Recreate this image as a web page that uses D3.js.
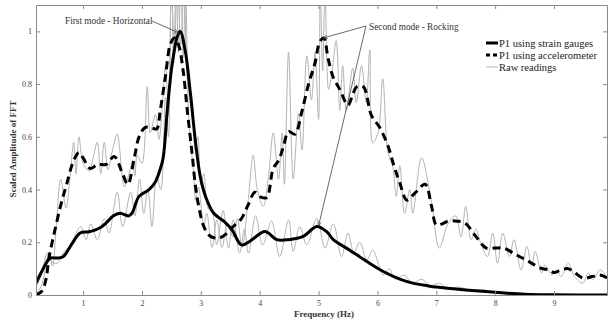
<!DOCTYPE html>
<html>
<head>
<style>
    body { margin: 0; background: #fff; }
    svg text { font-family: "Liberation Serif", "Times New Roman", serif; }
    .axis path, .axis line { stroke: #8a8a8a; }
    .axis text { fill: #444; font-size: 8px; }
</style>
</head>
<body>
<svg width="608" height="321" id="chart"></svg>
<script src="https://cdn.jsdelivr.net/npm/d3@7"></script>
<script>
    // P1 using strain gauges
    let strainFreq = [0.2, 0.3, 0.44, 0.55, 0.66, 0.8, 0.95, 1.1, 1.29, 1.4, 1.51, 1.63, 1.77, 1.83, 1.95, 2.12, 2.23, 2.3, 2.36, 2.43, 2.51, 2.6, 2.65, 2.74, 2.82, 2.91, 2.99, 3.08, 3.22, 3.39, 3.53, 3.69, 3.84, 4.09, 4.29, 4.49, 4.74, 4.97, 5.14, 5.25, 5.53, 5.82, 6.1, 6.38, 6.6, 6.85, 7.0, 7.5, 8.0, 8.5, 9.0, 9.9];
    let strainAmp = [0.045, 0.09, 0.14, 0.14, 0.145, 0.19, 0.235, 0.24, 0.255, 0.275, 0.3, 0.31, 0.3, 0.31, 0.374, 0.4, 0.43, 0.47, 0.52, 0.7, 0.87, 0.98, 1.0, 0.92, 0.77, 0.58, 0.45, 0.374, 0.31, 0.28, 0.247, 0.19, 0.205, 0.241, 0.21, 0.21, 0.222, 0.26, 0.24, 0.21, 0.17, 0.127, 0.089, 0.06, 0.045, 0.035, 0.03, 0.019, 0.01, 0.003, 0.001, 0];

    // P1 using accelerometer
    let accFreq = [0.2, 0.3, 0.37, 0.42, 0.52, 0.62, 0.72, 0.84, 0.93, 1.0, 1.12, 1.25, 1.39, 1.53, 1.67, 1.76, 1.87, 1.95, 2.05, 2.15, 2.25, 2.31, 2.4, 2.48, 2.55, 2.62, 2.7, 2.77, 2.85, 2.91, 2.97, 3.05, 3.15, 3.3, 3.42, 3.55, 3.69, 3.8, 3.92, 4.03, 4.12, 4.23, 4.32, 4.4, 4.49, 4.6, 4.71, 4.83, 4.94, 5.02, 5.09, 5.16, 5.25, 5.36, 5.5, 5.58, 5.65, 5.76, 5.9, 6.04, 6.18, 6.28, 6.38, 6.5, 6.64, 6.81, 6.92, 7.0, 7.1, 7.2, 7.35, 7.49, 7.68, 7.85, 8.0, 8.14, 8.3, 8.41, 8.55, 8.67, 8.8, 8.92, 9.0, 9.12, 9.24, 9.35, 9.5, 9.65, 9.78, 9.9];
    let accAmp = [0.0, 0.015, 0.06, 0.14, 0.245, 0.34, 0.42, 0.51, 0.54, 0.52, 0.48, 0.495, 0.495, 0.525, 0.46, 0.42, 0.52, 0.6, 0.635, 0.635, 0.63, 0.7, 0.83, 0.95, 0.975, 0.95, 0.85, 0.7, 0.54, 0.41, 0.33, 0.26, 0.225, 0.215, 0.23, 0.26, 0.29, 0.34, 0.39, 0.37, 0.37, 0.48, 0.51, 0.56, 0.62, 0.61, 0.69, 0.8, 0.88, 0.96, 0.975, 0.9, 0.825, 0.78, 0.72, 0.76, 0.79, 0.79, 0.68, 0.635, 0.565, 0.49, 0.425, 0.36, 0.387, 0.42, 0.336, 0.266, 0.27, 0.28, 0.28, 0.273, 0.22, 0.178, 0.178, 0.178, 0.16, 0.146, 0.13, 0.114, 0.1, 0.095, 0.085, 0.095, 0.1, 0.085, 0.064, 0.07, 0.076, 0.065];

    // Raw readings, accelerometer
    let rawAccFreq = [0.2, 0.3, 0.42, 0.48, 0.55, 0.62, 0.71, 0.78, 0.84, 0.88, 0.93, 1.0, 1.1, 1.17, 1.24, 1.3, 1.36, 1.42, 1.5, 1.58, 1.7, 1.77, 1.84, 1.88, 1.92, 2.0, 2.09, 2.14, 2.23, 2.29, 2.34, 2.4, 2.45, 2.5, 2.54, 2.58, 2.62, 2.66, 2.7, 2.74, 2.8, 2.88, 2.91, 2.96, 3.05, 3.1, 3.19, 3.27, 3.36, 3.45, 3.55, 3.62, 3.7, 3.8, 3.89, 3.96, 4.06, 4.15, 4.23, 4.32, 4.38, 4.42, 4.49, 4.57, 4.66, 4.72, 4.8, 4.88, 4.94, 5.0, 5.03, 5.07, 5.11, 5.17, 5.23, 5.3, 5.36, 5.41, 5.47, 5.58, 5.64, 5.73, 5.81, 5.87, 5.92, 6.01, 6.09, 6.18, 6.26, 6.32, 6.38, 6.46, 6.55, 6.6, 6.75, 6.92, 7.05, 7.2, 7.33, 7.42, 7.5, 7.59, 7.67, 7.75, 7.87, 7.96, 8.04, 8.13, 8.24, 8.32, 8.44, 8.54, 8.62, 8.68, 8.79, 8.84, 8.96, 9.03, 9.12, 9.24, 9.35, 9.49, 9.58, 9.66, 9.78, 9.9];
    let rawAccAmp = [0.0, 0.04, 0.16, 0.11, 0.28, 0.44, 0.33, 0.45, 0.58, 0.46, 0.6, 0.5, 0.47, 0.52, 0.58, 0.46, 0.58, 0.475, 0.55, 0.61, 0.41, 0.45, 0.51, 0.45, 0.53, 0.5, 0.79, 0.615, 0.685, 0.59, 0.7, 0.87, 0.68, 1.2, 0.88, 1.2, 0.92, 1.2, 0.9, 1.15, 0.65, 0.46, 0.36, 0.41, 0.26, 0.31, 0.18, 0.285, 0.18, 0.27, 0.22, 0.29, 0.18, 0.35, 0.53, 0.4, 0.336, 0.45, 0.615, 0.44, 0.615, 0.42, 0.92, 0.44, 0.69, 0.55, 0.907, 0.74, 0.92, 0.666, 1.15, 0.85, 1.15, 0.78, 0.85, 0.965, 0.7, 0.87, 0.7, 0.86, 0.73, 0.87, 0.73, 0.93, 0.577, 0.615, 0.82, 0.54, 0.49, 0.374, 0.49, 0.31, 0.4, 0.31, 0.52, 0.35, 0.178, 0.27, 0.3, 0.22, 0.336, 0.21, 0.25, 0.2, 0.146, 0.235, 0.12, 0.235, 0.146, 0.21, 0.095, 0.184, 0.108, 0.165, 0.083, 0.114, 0.076, 0.095, 0.07, 0.12, 0.07, 0.045, 0.083, 0.057, 0.095, 0.07];

    // Raw readings, strain gauges
    let rawStrainFreq = [0.2, 0.3, 0.39, 0.45, 0.56, 0.66, 0.75, 0.85, 0.96, 1.05, 1.13, 1.24, 1.36, 1.44, 1.58, 1.67, 1.81, 1.88, 1.96, 2.03, 2.1, 2.17, 2.25, 2.32, 2.4, 2.45, 2.5, 2.55, 2.6, 2.66, 2.72, 2.78, 2.85, 2.9, 2.95, 3.0, 3.05, 3.12, 3.2, 3.27, 3.38, 3.47, 3.55, 3.66, 3.74, 3.81, 3.93, 4.05, 4.2, 4.34, 4.49, 4.57, 4.68, 4.8, 4.97, 5.11, 5.25, 5.39, 5.5, 5.6, 5.7, 5.82, 5.92, 6.1, 6.2, 6.3, 6.45, 6.6, 6.75, 6.9, 7.05, 7.2, 7.4, 7.6, 7.8, 8.0, 8.3, 8.6, 9.0, 9.9];
    let rawStrainAmp = [0.03, 0.08, 0.16, 0.13, 0.12, 0.16, 0.18, 0.22, 0.26, 0.21, 0.27, 0.21, 0.29, 0.235, 0.39, 0.26, 0.39, 0.3, 0.44, 0.31, 0.4, 0.26, 0.45, 0.4, 0.75, 0.6, 1.2, 0.9, 1.2, 0.95, 1.2, 0.8, 0.75, 0.55, 0.6, 0.42, 0.46, 0.33, 0.31, 0.19, 0.32, 0.178, 0.285, 0.16, 0.25, 0.159, 0.3, 0.19, 0.28, 0.146, 0.285, 0.165, 0.26, 0.19, 0.29, 0.178, 0.27, 0.146, 0.235, 0.16, 0.2, 0.133, 0.17, 0.076, 0.1, 0.06, 0.075, 0.045, 0.06, 0.035, 0.045, 0.025, 0.03, 0.015, 0.02, 0.008, 0.006, 0.002, 0.001, 0];

    let xTicks = [1, 2, 3, 4, 5, 6, 7, 8, 9];
    let yTicks = [0, 0.2, 0.4, 0.6, 0.8, 1];
    let legendLabels = ["P1 using strain gauges", "P1 using accelerometer", "Raw readings"];

    let svg = d3.select("#chart");
    let plotLeft = 36, plotRight = 607, plotTop = 5, plotBottom = 295;

    let x = d3.scaleLinear().domain([0.2, 9.9]).range([plotLeft, plotRight]);
    let y = d3.scaleLinear().domain([0, 1.1]).range([plotBottom, plotTop]);

    let defs = svg.append("defs");
    defs.append("clipPath").attr("id", "plotclip")
        .append("rect")
        .attr("x", plotLeft).attr("y", plotTop)
        .attr("width", plotRight - plotLeft).attr("height", plotBottom - plotTop);

    defs.append("marker")
        .attr("id", "arrowhead")
        .attr("viewBox", "0 0 10 10")
        .attr("refX", 9).attr("refY", 5)
        .attr("markerWidth", 6).attr("markerHeight", 6)
        .attr("orient", "auto")
        .append("path")
        .attr("d", "M0,1 L10,5 L0,9")
        .attr("fill", "none")
        .attr("stroke", "#444")
        .attr("stroke-width", 1.2);

    function pairs(fs, vs) {
        return fs.map(function (f, i) { return [f, vs[i]]; });
    }

    let line = d3.line()
        .x(function (d) { return x(d[0]); })
        .y(function (d) { return y(d[1]); })
        .curve(d3.curveCatmullRom.alpha(0.5));

    let plot = svg.append("g").attr("clip-path", "url(#plotclip)");

    plot.append("path")
        .datum(pairs(rawAccFreq, rawAccAmp))
        .attr("d", line)
        .attr("fill", "none").attr("stroke", "#b4b4b4").attr("stroke-width", 1);

    plot.append("path")
        .datum(pairs(rawStrainFreq, rawStrainAmp))
        .attr("d", line)
        .attr("fill", "none").attr("stroke", "#b4b4b4").attr("stroke-width", 1);

    plot.append("path")
        .datum(pairs(accFreq, accAmp))
        .attr("d", line)
        .attr("fill", "none").attr("stroke", "#000").attr("stroke-width", 3)
        .attr("stroke-dasharray", "8,5");

    plot.append("path")
        .datum(pairs(strainFreq, strainAmp))
        .attr("d", line)
        .attr("fill", "none").attr("stroke", "#000").attr("stroke-width", 3);

    // axes, ticks pointing inward like the original
    svg.append("g").attr("class", "axis")
        .attr("transform", "translate(0," + plotBottom + ")")
        .call(d3.axisBottom(x).tickValues(xTicks).tickSizeInner(-4).tickSizeOuter(0).tickPadding(5));
    svg.append("g").attr("class", "axis")
        .attr("transform", "translate(0," + plotTop + ")")
        .call(d3.axisTop(x).tickValues(xTicks).tickSizeInner(-4).tickSizeOuter(0).tickFormat(""));
    svg.append("g").attr("class", "axis")
        .attr("transform", "translate(" + plotLeft + ",0)")
        .call(d3.axisLeft(y).tickValues(yTicks).tickSizeInner(-4).tickSizeOuter(0).tickPadding(4)
            .tickFormat(d3.format("~g")));
    svg.append("g").attr("class", "axis")
        .attr("transform", "translate(" + plotRight + ",0)")
        .call(d3.axisRight(y).tickValues(yTicks).tickSizeInner(-4).tickSizeOuter(0).tickFormat(""));

    svg.append("text")
        .attr("x", 324).attr("y", 317)
        .attr("text-anchor", "middle")
        .attr("font-size", "9px").attr("font-weight", "bold").attr("fill", "#333")
        .text("Frequency (Hz)");

    svg.append("text")
        .attr("transform", "translate(16,149) rotate(-90)")
        .attr("text-anchor", "middle")
        .attr("font-size", "9px").attr("font-weight", "bold").attr("fill", "#333")
        .text("Scaled Amplitude of FFT");

    // annotations
    svg.append("text")
        .attr("x", 65).attr("y", 24)
        .attr("font-size", "9.3px").attr("fill", "#333")
        .text("First mode - Horizontal");
    svg.append("line")
        .attr("x1", 152).attr("y1", 21).attr("x2", x(2.62)).attr("y2", y(0.995))
        .attr("stroke", "#444").attr("stroke-width", 0.8).attr("marker-end", "url(#arrowhead)");

    svg.append("text")
        .attr("x", 369).attr("y", 30)
        .attr("font-size", "9.3px").attr("fill", "#333")
        .text("Second mode - Rocking");
    svg.append("line")
        .attr("x1", 366).attr("y1", 26).attr("x2", x(5.08)).attr("y2", y(0.975))
        .attr("stroke", "#444").attr("stroke-width", 0.8).attr("marker-end", "url(#arrowhead)");
    svg.append("line")
        .attr("x1", 366).attr("y1", 26).attr("x2", x(5.0)).attr("y2", y(0.262))
        .attr("stroke", "#444").attr("stroke-width", 0.8).attr("marker-end", "url(#arrowhead)");

    // legend
    let legendStyles = [
        {w: 3, dash: null, color: "#000"},
        {w: 3, dash: "4,3", color: "#000"},
        {w: 1, dash: null, color: "#b4b4b4"}
    ];
    let legend = svg.append("g").selectAll("g")
        .data(legendLabels)
        .enter().append("g")
        .attr("transform", function (d, i) { return "translate(486," + (43 + i * 12) + ")"; });
    legend.append("line")
        .attr("x1", 0).attr("x2", 12).attr("y1", 0).attr("y2", 0)
        .attr("stroke", function (d, i) { return legendStyles[i].color; })
        .attr("stroke-width", function (d, i) { return legendStyles[i].w; })
        .attr("stroke-dasharray", function (d, i) { return legendStyles[i].dash; });
    legend.append("text")
        .attr("x", 13).attr("y", 3.5)
        .attr("font-size", "10.5px").attr("fill", "#222")
        .text(function (d) { return d; });
</script>
</body>
</html>
